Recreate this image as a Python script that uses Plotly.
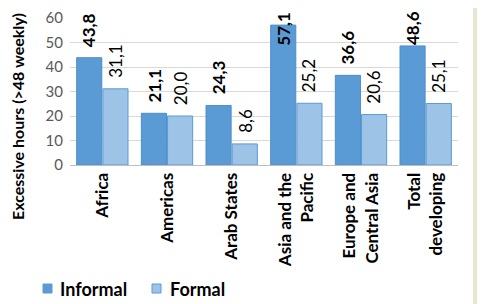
import plotly.graph_objects as go

categories = ["Africa", "Americas", "Arab States", "Asia and the<br>Pacific",
              "Europe and<br>Central Asia", "Total<br>developing"]
informal = [43.8, 21.1, 24.3, 57.1, 36.6, 48.6]
formal = [31.1, 20.0, 8.6, 25.2, 20.6, 25.1]
series_names = ["Informal", "Formal"]
y_ticks = [0, 10, 20, 30, 40, 50, 60]

FONT = "Lato"
BEIGE = "#EBE3D3"
C_INF = "#5B9BD5"
C_FOR = "#9DC3E6"
C_LINE = ["#4F8FCB", "#5B9BD5"]

fig = go.Figure()
fig.add_trace(go.Bar(name=series_names[0], x=categories, y=informal,
                     marker=dict(color=C_INF, line=dict(color=C_LINE[0], width=1))))
fig.add_trace(go.Bar(name=series_names[1], x=categories, y=formal,
                     marker=dict(color=C_FOR, line=dict(color=C_LINE[1], width=1))))

def fmt(v):
    return f"{v:.1f}".replace(".", ",")

ann = []
for i, c in enumerate(categories):
    for vals, shift, bold in ((informal, -13, True), (formal, 13, False)):
        v = vals[i]
        ypos = min(v + 3.6, 48)
        txt = f"<b>{fmt(v)}</b>" if bold else fmt(v)
        ann.append(dict(x=c, y=ypos, xref="x", yref="y", text=txt, showarrow=False,
                        textangle=-90, xshift=shift, yanchor="bottom", xanchor="center",
                        font=dict(family=FONT, size=17, color="#000000")))

# helpers: window pixel -> paper coords (plot area spans window x 70..458, y 18..165)
def px_x(p):
    return (p - 70) / 388

def px_y(p):
    return (165 - p) / 147

ann.append(dict(x=px_x(17), y=px_y(117), xref="paper", yref="paper",
                text="<b>Excessive hours (>48 weekly)</b>", showarrow=False,
                textangle=-90, xanchor="center", yanchor="middle",
                font=dict(family=FONT, size=16, color="#000000")))

shapes = [
    dict(type="rect", xref="paper", yref="paper", x0=px_x(0), x1=px_x(473),
         y0=px_y(320), y1=px_y(7), fillcolor="white", line=dict(width=0), layer="below"),
]
leg = [(43, 58, C_INF, C_INF), (152, 168, C_FOR, C_LINE[1])]
for (sx, tx, fc, lc), name in zip(leg, series_names):
    shapes.append(dict(type="rect", xref="paper", yref="paper",
                       x0=px_x(sx), x1=px_x(sx + 9), y0=px_y(293), y1=px_y(284),
                       fillcolor=fc, line=dict(color=lc, width=1)))
    ann.append(dict(x=px_x(tx), y=px_y(289), xref="paper", yref="paper",
                    text=f"<b>{name}</b>", showarrow=False, xanchor="left",
                    yanchor="middle", font=dict(family=FONT, size=18, color="#000000")))

# page body has an 8px default margin, so the figure is laid out offset by -8px
fig.update_layout(
    width=485, height=304,
    margin=dict(l=62, r=35, t=10, b=147, autoexpand=False),
    paper_bgcolor=BEIGE, plot_bgcolor="white",
    barmode="group", bargap=0.19, bargroupgap=0.04,
    font=dict(family=FONT, color="#000000"),
    annotations=ann, shapes=shapes,
    showlegend=False,
)
fig.update_xaxes(tickangle=-90, tickfont=dict(family=FONT, size=17, color="#000000"),
                 showline=True, linecolor="#BFBFBF", linewidth=1, ticks="",
                 showgrid=False, tickvals=categories, automargin=False,
                 ticktext=[f"<b>{c}</b>" for c in categories])
fig.update_yaxes(range=[0, 60], tickvals=y_ticks, ticktext=[str(t) for t in y_ticks],
                 showgrid=True, gridcolor="#D9D9D9", gridwidth=1, zeroline=False,
                 showline=False, tickfont=dict(family=FONT, size=15, color="#595959"),
                 ticklabelstandoff=6, automargin=False)

fig.write_html("out.html")
